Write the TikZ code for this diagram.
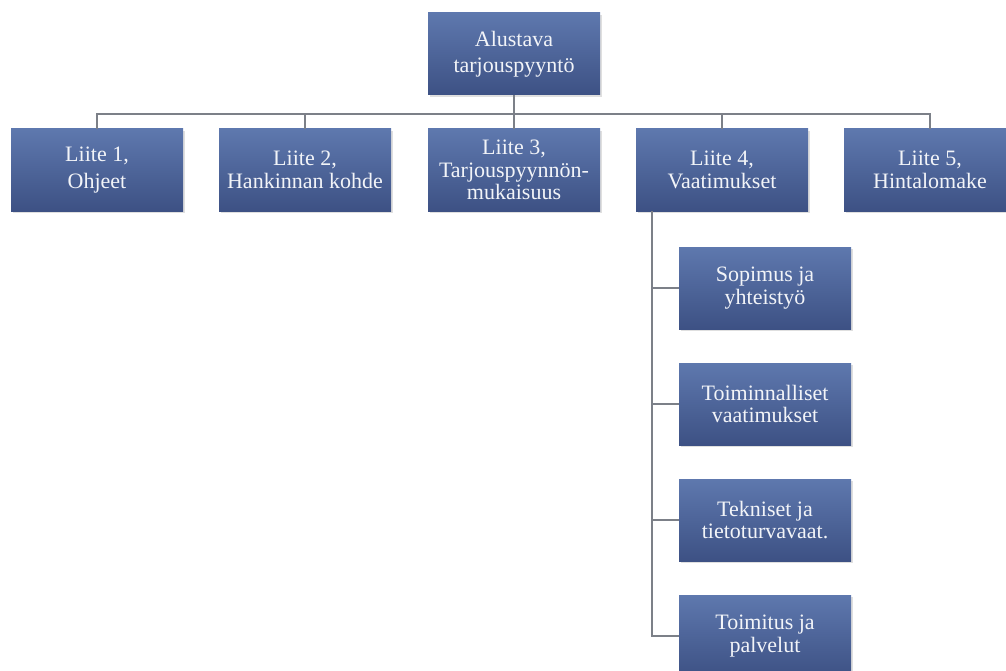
\documentclass[tikz,border=0pt]{standalone}
\usepackage{fontspec}
\setmainfont{Liberation Serif}
\usepackage{tikz}
\usetikzlibrary{calc, shadows}

\definecolor{boxtop}{HTML}{5E78AE}
\definecolor{boxbot}{HTML}{3D5184}
\definecolor{linegray}{HTML}{7C8088}
\definecolor{boxtext}{HTML}{F2F4F8}

\begin{document}
\begin{tikzpicture}[x=1pt, y=-1pt]
\tikzset{every node/.style={rectangle, top color=boxtop, bottom color=boxbot, text=boxtext, minimum width=172pt, minimum height=82pt, inner sep=0pt, align=center, font=\fontsize{22}{22.5}\selectfont, drop shadow={opacity=0.25, shadow xshift=1.5pt, shadow yshift=-2pt}}, conn/.style={linegray, line width=1.4pt}}

\useasboundingbox (0,0) rectangle (1006,671);

% top and first row
\node (T) at (514,54) {Alustava\\[3pt]tarjouspyyntö};
\node (L1) at (97,170) {Liite 1,\\[5pt]Ohjeet};
\node (L2) at (305,170) {Liite 2,\\Hankinnan kohde};
\node (L3) at (514,170) {Liite 3,\\Tarjouspyynnön-\\mukaisuus};
\node (L4) at (722,170) {Liite 4,\\Vaatimukset};
\node (L5) at (930,170) {Liite 5,\\Hintalomake};

% Liite 4 sub items
\node (L4A) at (765,288) {Sopimus ja\\yhteistyö};
\node (L4B) at (765,404) {Toiminnalliset\\vaatimukset};
\node (L4C) at (765,520) {Tekniset ja\\tietoturvavaat.};
\node (L4D) at (765,636) {Toimitus ja\\palvelut};

\foreach \n in {L1, L2, L3, L4, L5}
  \draw [conn] (T.south) -- ++(0,19) -| (\n.north);
\foreach \n in {L4A, L4B, L4C, L4D}
  \draw [conn] ([xshift=16pt]L4.south west) |- (\n.west);

\end{tikzpicture}
\end{document}
